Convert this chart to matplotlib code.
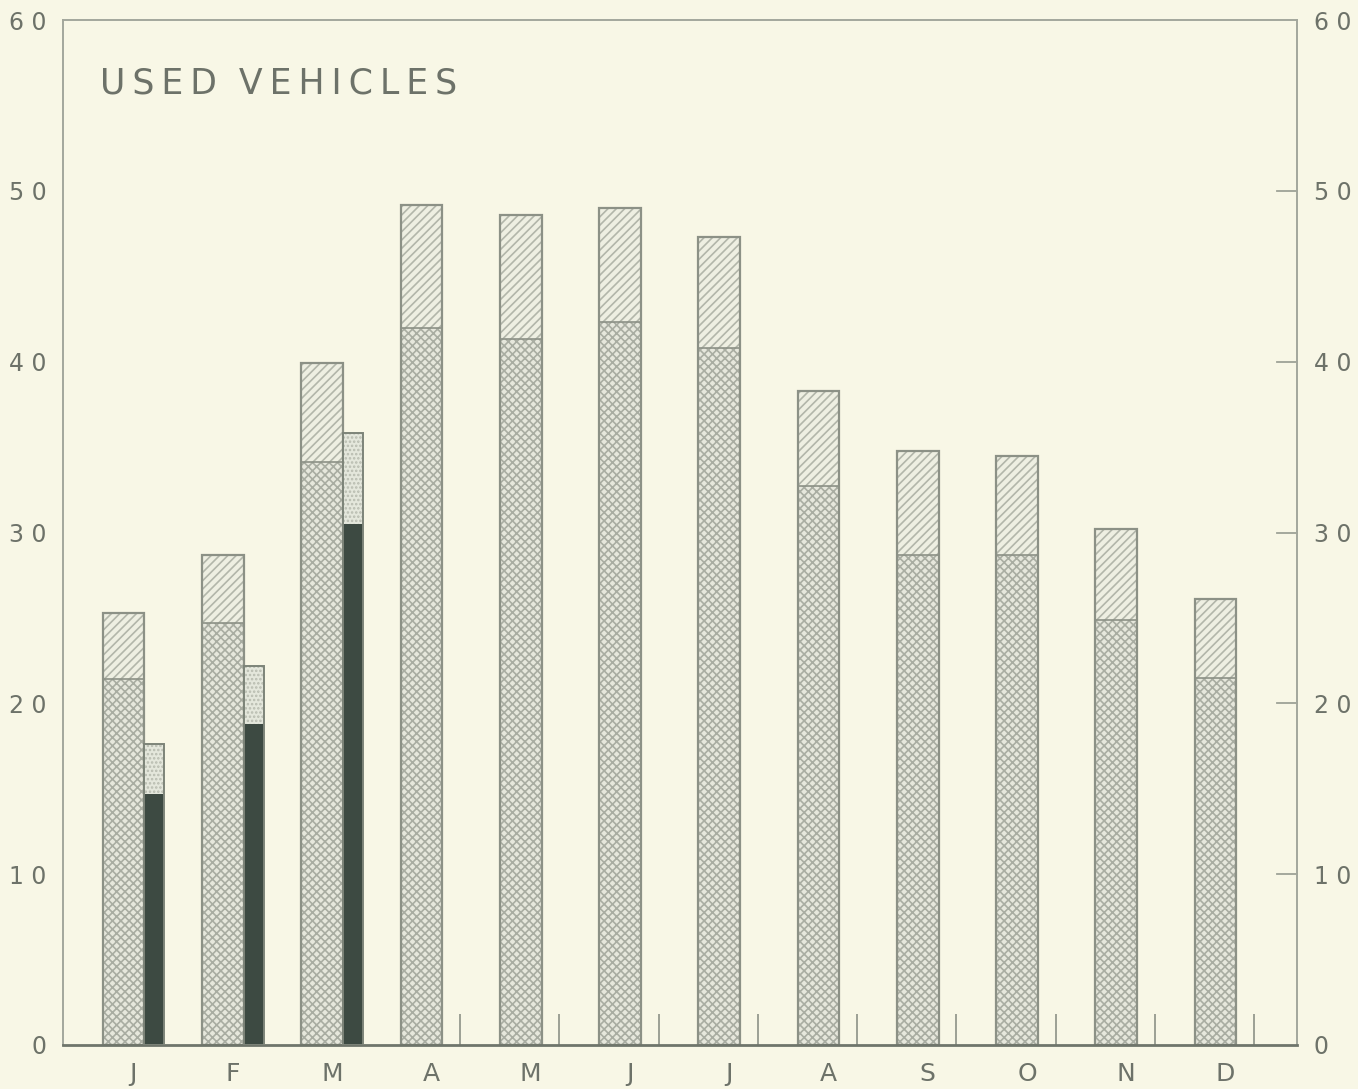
import matplotlib.pyplot as plt
import numpy as np

# monthly values
months = ["J", "F", "M", "A", "M", "J", "J", "A", "S", "O", "N", "D"]
total_prev = [25.3, 28.7, 39.9, 49.2, 48.6, 49.0, 47.3, 38.3, 34.8, 34.5, 30.2, 26.1]
lower_prev = [21.4, 24.7, 34.1, 42.0, 41.3, 42.3, 40.8, 32.7, 28.7, 28.7, 24.9, 21.5]
total_curr = [17.6, 22.2, 35.8]
lower_curr = [14.7, 18.8, 30.5]

bg = "#f8f7e6"
edge = "#8c9186"
text_c = "#6d7269"

plt.rcParams["hatch.linewidth"] = 1.2
plt.rcParams["font.family"] = ["DejaVu Sans"]

fig = plt.figure(figsize=(13.58, 10.89), dpi=100, facecolor=bg)
ax = fig.add_axes([63 / 1358, 1 - 1045 / 1089, (1297 - 63) / 1358, (1045 - 20) / 1089])
ax.set_facecolor(bg)

x = np.arange(len(months))
w = 0.42
upper = np.array(total_prev) - np.array(lower_prev)

# wide bars: crosshatched lower part, diagonal hatched top
ax.bar(x, lower_prev, w, color="#e6e7dc", edgecolor="#a9ada2", hatch="xxxx", linewidth=0)
ax.bar(x, upper, w, bottom=lower_prev, color="#eeefe2", edgecolor="#b2b6aa", hatch="////", linewidth=0)
ax.bar(x, total_prev, w, fill=False, edgecolor=edge, linewidth=1.6)
ax.plot(np.vstack([x - w / 2, x + w / 2]), np.vstack([lower_prev, lower_prev]), color=edge, lw=1.2)

# narrow bars for current year
xc = np.arange(len(total_curr)) + 0.31
wc = 0.2
upc = np.array(total_curr) - np.array(lower_curr)
ax.bar(xc, lower_curr, wc, color="#3d4a42", linewidth=0, zorder=3)
ax.bar(xc, upc, wc, bottom=lower_curr, color="#e4e7dc", edgecolor="#b8bcb0", hatch="....", linewidth=0, zorder=3)
ax.bar(xc, total_curr, wc, fill=False, edgecolor="#7d8479", linewidth=1.4, zorder=3)

ax.set_xlim(-0.61, 11.82)
ax.set_ylim(0, 60)

for s in ["top", "right", "left"]:
    ax.spines[s].set_color("#a3a79c")
    ax.spines[s].set_linewidth(1.4)
ax.spines["bottom"].set_color("#6f756b")
ax.spines["bottom"].set_linewidth(2)

yt = np.arange(0, 61, 10)
ylabels = [" ".join(str(v)) for v in yt]
ax.set_yticks(yt)
ax.set_yticklabels(ylabels)
ax.tick_params(axis="y", which="major", direction="in", length=0, pad=12,
               labelsize=17, labelcolor=text_c, labelleft=True, labelright=True,
               left=False, right=False)
for yv in yt[1:-1]:
    ax.plot([11.62, 11.82], [yv, yv], color="#9ea297", lw=1.3, clip_on=False)

ax.set_xticks(x + 0.1)
ax.set_xticklabels(months)
ax.tick_params(axis="x", which="major", length=0, pad=12, labelsize=18, labelcolor=text_c)
ax.set_xticks(x[3:] + 0.39, minor=True)
ax.tick_params(axis="x", which="minor", direction="in", length=22, width=1.2, color="#8c9186")

ax.text(0.03, 0.955, "U S E D   V E H I C L E S".replace(" ", "\u2009").replace("\u2009\u2009\u2009", "  "),
        transform=ax.transAxes, fontsize=25, color=text_c, va="top", ha="left")

plt.savefig("out.png", dpi=100, facecolor=bg)
